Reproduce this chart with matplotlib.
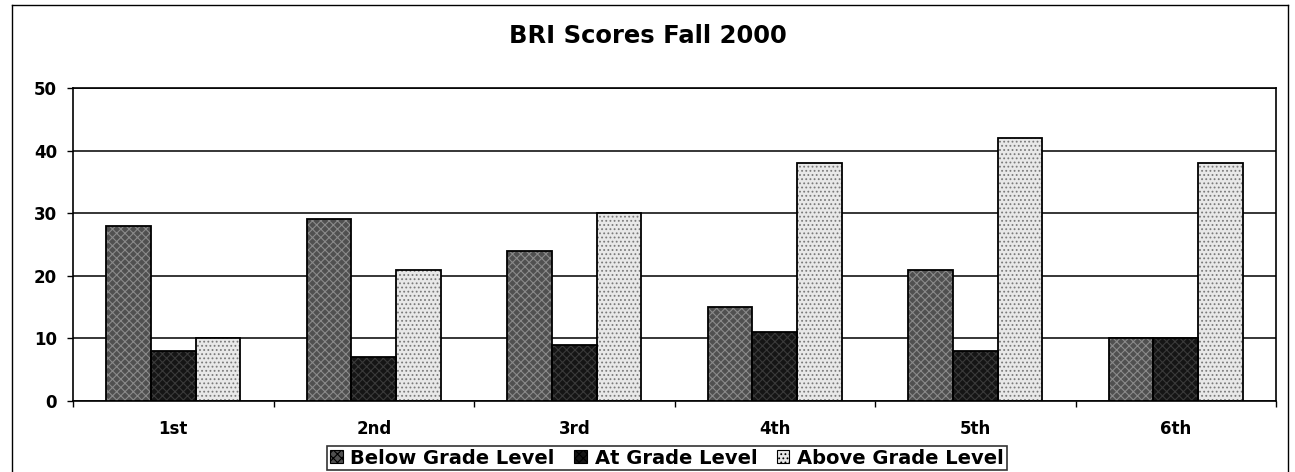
import matplotlib
matplotlib.use("Agg")
import matplotlib.pyplot as plt
import numpy as np
from matplotlib.patches import Patch
from matplotlib.lines import Line2D

categories = ["1st", "2nd", "3rd", "4th", "5th", "6th"]
series_names = ["Below Grade Level", "At Grade Level", "Above Grade Level"]
below = [28, 29, 24, 15, 21, 10]
at_level = [8, 7, 9, 11, 8, 10]
above = [10, 21, 30, 38, 42, 38]
yticks = [0, 10, 20, 30, 40, 50]

plt.rcParams['font.family'] = ['DejaVu Sans']
plt.rcParams['hatch.linewidth'] = 0.8

W, H = 1295, 472
fig = plt.figure(figsize=(W / 100, H / 100), dpi=100)
ax = fig.add_axes([73 / W, 1 - 401 / H, (1276 - 73) / W, (401 - 88) / H])

x = np.arange(len(categories))
bw = 0.222
styles = [
    dict(face="#505050", hatch="xxxx", hcolor="#8a8a8a"),
    dict(face="#151515", hatch="xxxx", hcolor="#3a3a3a"),
    dict(face="#e8e8e8", hatch="....", hcolor="#7a7a7a"),
]
data = [below, at_level, above]
for i, (vals, st) in enumerate(zip(data, styles)):
    pos = x + (i - 1) * bw
    ax.bar(pos, vals, width=bw, color=st["face"], edgecolor="none", zorder=2)
    ax.bar(pos, vals, width=bw, color="none", edgecolor=st["hcolor"],
           hatch=st["hatch"], linewidth=0, zorder=3)
    ax.bar(pos, vals, width=bw, color="none", edgecolor="black",
           linewidth=1.3, zorder=4)

ax.set_xlim(-0.5, len(categories) - 0.5)
ax.set_ylim(0, 50)
ax.set_yticks(yticks)
ax.set_yticklabels([str(v) for v in yticks], fontsize=12, fontweight="bold")
ax.yaxis.grid(True, color="black", linewidth=1.1, zorder=0)
ax.set_axisbelow(True)
ax.tick_params(axis="y", length=4, width=1, pad=7.5, direction="out")

ax.set_xticks(x)
ax.set_xticklabels(categories, fontsize=12, fontweight="bold")
ax.tick_params(axis="x", which="major", length=0, pad=14)
ax.set_xticks(np.arange(-0.5, len(categories) + 0.5, 1), minor=True)
ax.tick_params(axis="x", which="minor", length=4, width=1, direction="out")

for s in ax.spines.values():
    s.set_color("black")
    s.set_linewidth(1.2)

fig.text(648 / W, 1 - 36 / H, "BRI Scores Fall 2000", ha="center", va="center",
         fontsize=17.5, fontweight="bold")

# outer chart frame
fx0, fx1, fy0 = 12 / W, 1288 / W, 1 - 5 / H
for xs, ys in [([fx0, fx1], [fy0, fy0]), ([fx0, fx0], [fy0, 0]), ([fx1, fx1], [fy0, 0])]:
    fig.add_artist(Line2D(xs, ys, color="black", linewidth=1.0, transform=fig.transFigure))

handles = [Patch(facecolor=st["face"], edgecolor="black", hatch=st["hatch"], linewidth=0.8)
           for st in styles]
leg = fig.legend(handles, series_names, loc="center", bbox_to_anchor=(667 / W, 1 - 458 / H),
                 ncol=3, frameon=True, fancybox=False, edgecolor="black",
                 prop={"size": 14, "weight": "bold"}, handlelength=0.65, handleheight=0.65,
                 handletextpad=0.4, columnspacing=1.0, borderpad=0.15, borderaxespad=0)
leg.get_frame().set_linewidth(1.2)

fig.savefig("out.png", dpi=100)
